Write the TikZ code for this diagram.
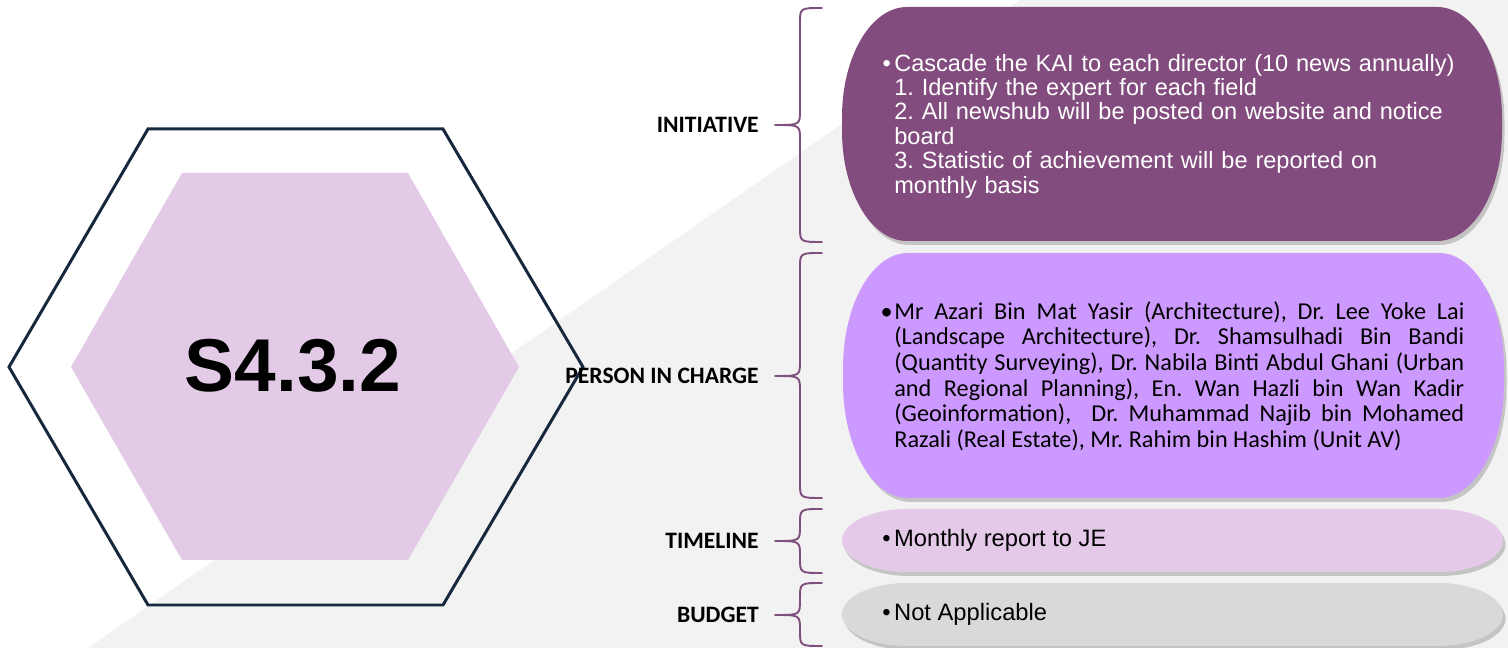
\documentclass[tikz,border=0pt]{standalone}
\usepackage{fontspec}
\setmainfont{Liberation Sans}
\newfontfamily\calibri{Carlito}
\usetikzlibrary{shadows,positioning}
\definecolor{pageGray}{HTML}{F2F2F2}
\definecolor{hexLine}{HTML}{17283D}
\definecolor{hexFill}{HTML}{E3CBE8}
\definecolor{braceInk}{HTML}{7F4F7E}
\definecolor{initFill}{HTML}{824D7E}
\definecolor{picFill}{HTML}{CC99FF}
\definecolor{timeFill}{HTML}{E4CAE8}
\definecolor{budgetFill}{HTML}{D9D9D9}
\frenchspacing

\begin{document}
\begin{tikzpicture}[line cap=round,line join=round,
  lbl/.style={anchor=east,inner sep=0pt,font=\calibri\bfseries\fontsize{13.4}{16}\selectfont},
  curly/.style={draw=braceInk,line width=1.1pt},
  pill/.style={drop shadow={shadow xshift=0.05cm,shadow yshift=-0.08cm,opacity=0.4}},
  boxtxt/.style={anchor=west,inner sep=0pt,align=left}]
\path[use as bounding box] (0,0) rectangle (30.16,12.96);
\fill[white] (0,0) rectangle (30.16,12.96);

% grey wedge behind everything
\fill[pageGray] (1.76,0) -- (20.4,12.96) -- (30.16,12.96) -- (30.16,0) -- cycle;

% hexagon badge
\fill[hexFill] (3.64,9.5) -- (8.16,9.5) -- (10.38,5.62) -- (8.16,1.76) -- (3.64,1.76) -- (1.42,5.62) -- cycle;
\draw[hexLine,line width=1.7pt,line join=miter]
  (2.96,10.38) -- (8.86,10.38) -- (11.66,5.62) -- (8.86,0.86) -- (2.96,0.86) -- (0.18,5.62) -- cycle;
\node[font=\bfseries\fontsize{42.6}{48}\selectfont] (code) at (5.86,5.64) {S4.3.2};

% pills
\foreach \xa/\ya/\xb/\yb/\ry/\col in {16.84/8.14/30.04/12.82/2.2/initFill,
    16.86/3.0/30.08/7.9/2.3/picFill, 16.84/1.52/30.06/2.78/0.63/timeFill,
    16.84/0.04/30.06/1.3/0.63/budgetFill} {
  \fill[\col,pill] (\xa+1.3,\yb) -- (\xb-1.3,\yb)
    arc[start angle=90,end angle=0,x radius=1.3,y radius=\ry] -- (\xb,\ya+\ry)
    arc[start angle=0,end angle=-90,x radius=1.3,y radius=\ry] -- (\xa+1.3,\ya)
    arc[start angle=270,end angle=180,x radius=1.3,y radius=\ry] -- (\xa,\yb-\ry)
    arc[start angle=180,end angle=90,x radius=1.3,y radius=\ry] -- cycle;
}

% braces
\foreach \t/\m/\b in {12.8/10.46/8.12, 7.9/5.44/3.0, 2.78/2.14/1.5, 1.3/0.66/0.04} {
  \draw[curly] (16.44,\t) .. controls (16.0,\t) .. (16.0,\t-0.3) -- (16.0,\m+0.3)
    .. controls (16.0,\m) .. (15.5,\m) .. controls (16.0,\m) .. (16.0,\m-0.3)
    -- (16.0,\b+0.3) .. controls (16.0,\b) .. (16.44,\b);
}

% labels
\node[lbl] (initLbl) at (15.18,10.46) {INITIATIVE};
\node[lbl] (picLbl) at (15.18,5.44) {PERSON IN CHARGE};
\node[lbl] (tlLbl) at (15.18,2.14) {TIMELINE};
\node[lbl] (bgLbl) at (15.18,0.66) {BUDGET};

% pill texts
\node[boxtxt,text=white,text width=12cm,font=\fontsize{13.4}{13.9}\selectfont] (initTxt) at (17.88,10.44)
  {\llap{•\hspace{2pt}}Cascade the KAI to each director (10 news annually)\\
   1. Identify the expert for each field\\
   2. All newshub will be posted on website and notice\\
   board\\
   3. Statistic of achievement will be reported on\\
   monthly basis};
\node[boxtxt,align=justify,text width=11.4cm,font=\calibri\fontsize{13.8}{14.6}\selectfont] (picTxt) at (17.88,5.44)
  {\llap{•\hspace{1pt}}Mr Azari Bin Mat Yasir (Architecture), Dr. Lee Yoke Lai\linebreak
   (Landscape Architecture), Dr. Shamsulhadi Bin Bandi\linebreak
   (Quantity Surveying), Dr. Nabila Binti Abdul Ghani (Urban\linebreak
   and Regional Planning), En. Wan Hazli bin Wan Kadir\linebreak
   (Geoinformation),\ \ Dr. Muhammad Najib bin Mohamed\linebreak
   Razali (Real Estate), Mr. Rahim bin Hashim (Unit AV)};
\node[boxtxt,font=\fontsize{13.5}{16}\selectfont] (tlTxt) at (17.64,2.15) {•\hspace{2pt}Monthly report to JE};
\node[boxtxt,font=\fontsize{13.5}{16}\selectfont] (bgTxt) at (17.64,0.67) {•\hspace{2pt}Not Applicable};
\end{tikzpicture}
\end{document}
